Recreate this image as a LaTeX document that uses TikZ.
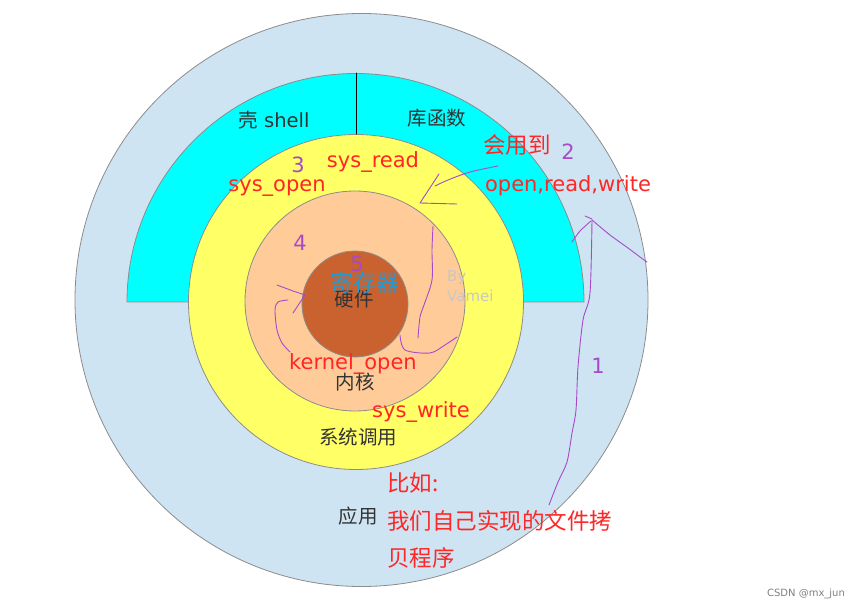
\documentclass[tikz,border=0pt]{standalone}
\usepackage{fontspec}
\setmainfont{DejaVu Sans}
\newfontfamily\cjk{Noto Sans CJK SC}
\definecolor{appblue}{HTML}{CFE4F2}
\definecolor{shellcyan}{HTML}{00FFFF}
\definecolor{sysyellow}{HTML}{FFFF66}
\definecolor{kernpeach}{HTML}{FFCC99}
\definecolor{hwbrown}{HTML}{C9622F}
\definecolor{notered}{HTML}{FF2626}
\definecolor{penpurple}{HTML}{A64AC9}
\definecolor{regblue}{HTML}{1E9BD7}
\definecolor{lbldark}{HTML}{333333}
\definecolor{ringgray}{HTML}{8C8C8C}
\begin{document}
\begin{tikzpicture}[x=1pt,y=-1pt,line join=round,line cap=round,
  ring/.style={draw=ringgray,line width=0.8pt},
  lbl/.style={inner sep=0pt,text=lbldark,font=\fontsize{19.5}{22}\selectfont},
  note/.style={inner sep=0pt,text=notered,font=\fontsize{21}{24}\selectfont},
  cjknote/.style={note,font=\cjk\fontsize{22.5}{26}\selectfont},
  num/.style={inner sep=0pt,text=penpurple,font=\fontsize{21}{24}\selectfont},
  pen/.style={penpurple,line width=0.9pt}]
\useasboundingbox (0,0) rectangle (862,612);
\fill[white] (0,0) rectangle (862,612);
\draw[ring,fill=appblue] (361.5,300) circle[radius=286.5];
\draw[ring,fill=shellcyan] (127,302) arc[start angle=180,end angle=360,radius=228.5] -- cycle;
\draw[ring,fill=sysyellow] (356,302) circle[radius=167.5];
\draw[ring,fill=kernpeach] (355,301) circle[radius=110];
\draw[ring,fill=hwbrown] (355,304) circle[radius=53];
\draw[black,line width=0.9pt] (356,73)--(356,134);
\node[lbl] (shell) at (274,120) {{\cjk 壳} shell};
\node[lbl,font=\cjk\fontsize{19.5}{22}\selectfont] (libfn) at (437,118) {库函数};
\node[lbl,font=\cjk\fontsize{19.5}{22}\selectfont] (hw) at (354,299) {硬件};
\node[lbl,font=\cjk\fontsize{19.5}{22}\selectfont] (kern) at (355,382) {内核};
\node[lbl,font=\cjk\fontsize{19.5}{22}\selectfont] (syscall) at (358,437) {系统调用};
\node[lbl,font=\cjk\fontsize{19.5}{22}\selectfont] (app) at (358,516) {应用};
\node[inner sep=0pt,text=regblue,font=\cjk\fontsize{23}{26}\selectfont] (reg) at (365,283) {寄存器};
\node[inner sep=0pt,anchor=west,align=left,text=black!22,font=\fontsize{15}{20}\selectfont] (sign) at (447,286) {By\\Vamei};
\node[note] (sysread) at (373,162) {sys\_read};
\node[note] (sysopen) at (277,188) {sys\_open};
\node[note] (rwlist) at (568,186) {open,read,write};
\node[note] (kopen) at (353,364) {kernel\_open};
\node[note] (syswrite) at (421,412) {sys\_write};
\node[cjknote] (use) at (517,145) {会用到};
\node[cjknote,anchor=west] (eg) at (387,483) {比如:};
\node[cjknote,anchor=west] (prog1) at (387,521) {我们自己实现的文件拷};
\node[cjknote,anchor=west] (prog2) at (387,558) {贝程序};
\node[num] (n1) at (598,366) {1};
\node[num] (n2) at (568,152) {2};
\node[num] (n3) at (298,165) {3};
\node[num] (n4) at (300,243) {4};
\node[num] (n5) at (357,264) {5};
\node[inner sep=0pt,text=black!50,font=\fontsize{10}{12}\selectfont] (credit) at (806,594) {CSDN @mx\_jun};
\draw[pen] plot[smooth] coordinates {(549,505) (558,482) (567,462) (572,433) (576,410) (578,367) (583,320) (590,293) (592,220)};
\draw[pen] (585,216)--(592,219);
\draw[pen] plot[smooth] coordinates {(591,221) (580,231) (572,242)};
\draw[pen] plot[smooth] coordinates {(592,220) (610,235) (628,248) (640,257) (647,262)};
\draw[pen] plot[smooth] coordinates {(498,166) (470,172) (448,180) (435,186)};
\draw[pen] (439,174) -- (420,203) -- (457,204);
\draw[pen] plot[smooth] coordinates {(433,226) (432,250) (432,280) (424,305) (420,317) (418,338)};
\draw[pen] plot[smooth] coordinates {(400,335) (405,350) (430,353) (445,345) (457,337)};
\draw[pen] (277,285) -- (293,291) -- (305,295) -- (293,313);
\draw[pen] plot[smooth] coordinates {(288,300) (278,302) (275,310) (277,330) (282,343) (290,352)};
\end{tikzpicture}
\end{document}
